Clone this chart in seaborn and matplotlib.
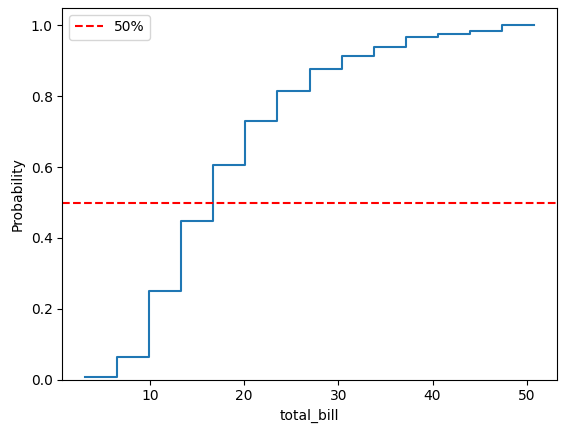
import matplotlib
matplotlib.use("Agg")
import matplotlib.pyplot as plt
import seaborn as sns
import pandas as pd

# bin centres of total_bill and how many bills fall in each bin
bill_centres = [4.8, 8.2, 11.6, 15.0, 18.4, 21.8, 25.2, 28.7, 32.1, 35.5, 38.9, 42.3, 45.7, 49.1]
bill_counts = [2, 14, 45, 48, 39, 30, 21, 15, 9, 6, 7, 2, 2, 4]
bill_min, bill_max = 3.07, 50.81

df = pd.DataFrame({"total_bill": bill_centres, "count": bill_counts})

fig, ax = plt.subplots(figsize=(5.67, 4.33), dpi=100)
sns.histplot(data=df, x="total_bill", weights="count", bins=len(bill_centres),
             binrange=(bill_min, bill_max), cumulative=True, stat="probability",
             element="step", fill=False, ax=ax)
ax.axhline(0.5, color="red", linestyle="--", label="50%")
ax.legend(loc="upper left")

fig.subplots_adjust(left=0.110, right=0.982, top=0.982, bottom=0.123)
fig.savefig("out.png")
